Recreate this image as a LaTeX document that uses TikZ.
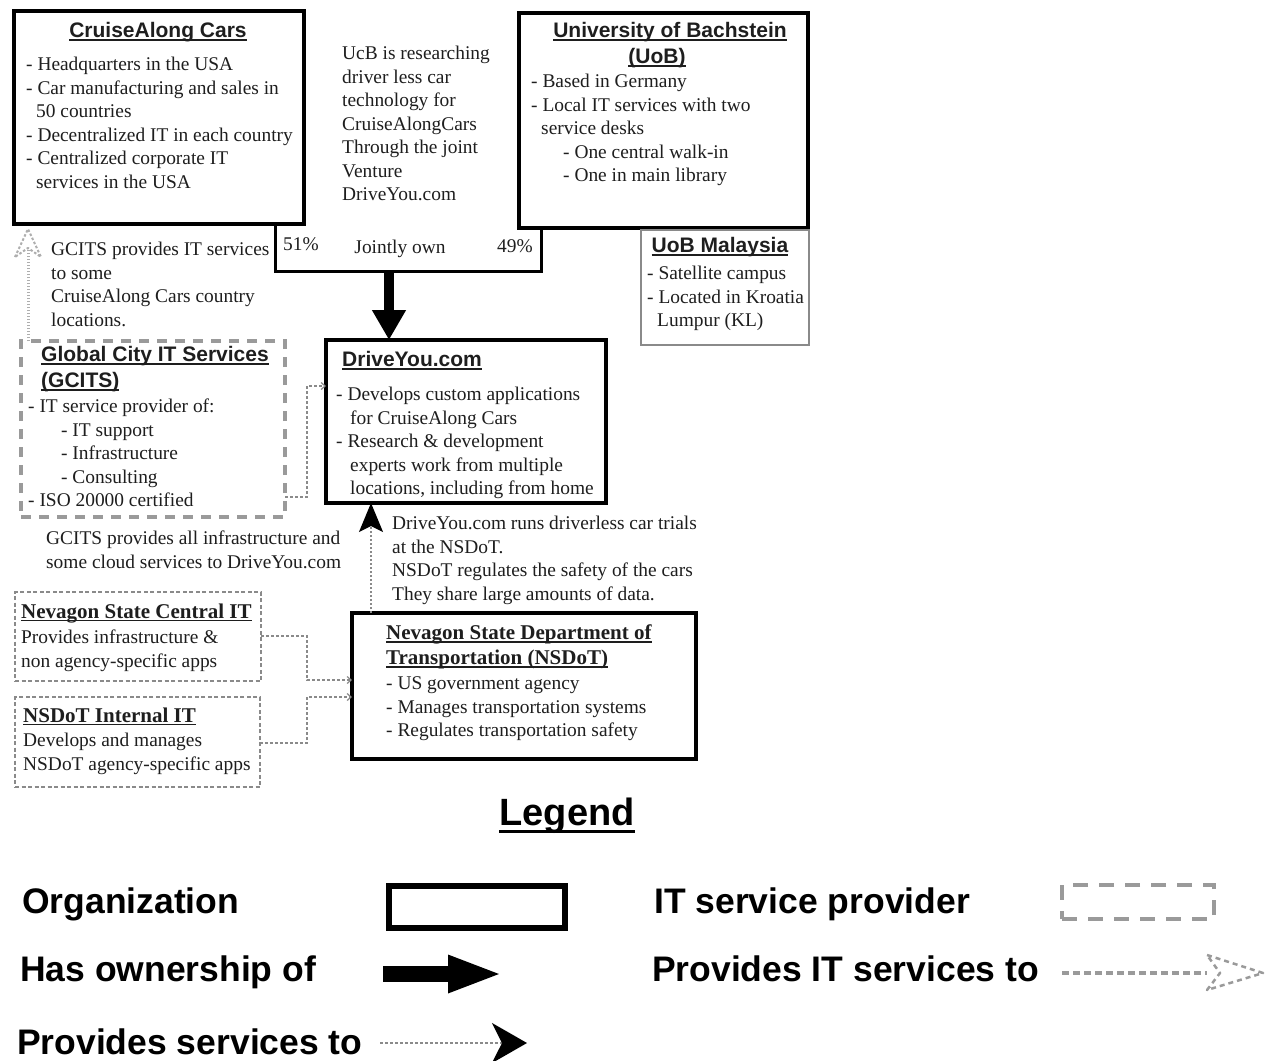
\documentclass[tikz,border=0pt]{standalone}
\usepackage{fontspec}
\setmainfont{Liberation Serif}
\setsansfont{Liberation Sans}
\usetikzlibrary{arrows.meta}
\definecolor{ink}{HTML}{1E1E1E}
\definecolor{itgray}{HTML}{9A9A9A}
\definecolor{thingray}{HTML}{8A8A8A}
\newcommand\myul[1]{\setbox0=\hbox{#1}\rlap{\rule[-3.4pt]{\wd0}{1.7pt}}\box0}
\newcommand\bodyfs{\fontsize{19.4pt}{23.5pt}\selectfont}
\newcommand\titlefs{\sffamily\bfseries\fontsize{21pt}{26pt}\selectfont}
\newcommand\stitlefs{\bfseries\fontsize{21pt}{25pt}\selectfont}
\newcommand\legfs{\sffamily\bfseries\fontsize{35.5pt}{40pt}\selectfont}
\tikzset{
  orgbox/.style={draw=black, line width=4pt, inner sep=0pt, outer sep=0pt, anchor=north west},
  itbox/.style={draw=itgray, line width=3.5pt, dash pattern=on 10pt off 8pt, inner sep=0pt, outer sep=0pt, anchor=north west},
  thinit/.style={draw=thingray, line width=1.3pt, dash pattern=on 4pt off 2.5pt, inner sep=0pt, outer sep=0pt, anchor=north west},
  satbox/.style={draw=thingray, line width=1.5pt, inner sep=0pt, outer sep=0pt, anchor=north west},
  body/.style={font=\bodyfs, align=left, inner sep=0pt, anchor=north west, text=ink, yshift=-2pt},
  pct/.style={font=\bodyfs, inner sep=0pt, anchor=base, text=ink},
  ttl/.style={font=\titlefs, inner sep=0pt, anchor=base, text=ink},
  ttlw/.style={font=\titlefs, inner sep=0pt, anchor=base west, text=ink},
  sttl/.style={font=\stitlefs, inner sep=0pt, anchor=base west, text=ink, align=left},
  legtxt/.style={font=\legfs, inner sep=0pt, anchor=base west, text=black},
  ownarrow/.style={draw=black, line width=10pt, -{Triangle[length=30pt,width=32pt]}},
  thinsvc/.style={draw=thingray, line width=1.2pt, dash pattern=on 3pt off 2pt, -{Straight Barb[length=4pt,width=7pt,color=thingray]}},
  svcarrow/.style={draw=thingray, line width=1.6pt, dash pattern=on 2pt off 2pt, -{Stealth[length=29pt,width=24pt,inset=6pt,color=black]}},
  itsvc/.style={draw=itgray!80, line width=3pt, dash pattern=on 1.5pt off 1.5pt},
  itsvchead/.style={draw=itgray!80, line width=2pt, dash pattern=on 2.5pt off 2pt, line join=round},
}
\begin{document}
\begin{tikzpicture}[x=1pt,y=-1pt]
\useasboundingbox (0,0) rectangle (1271,1060);
\fill[white] (0,0) rectangle (1271,1060);

% ---------- CruiseAlong Cars ----------
\node[orgbox, minimum width=290pt, minimum height=213pt] (cac) at (14,11) {};
\node[ttl] (cact) at (158,37.5) {\myul{CruiseAlong Cars}};
\node[body] (cacb) at (26,52) {\strut- Headquarters in the USA\\
- Car manufacturing and sales in\\
\hspace*{10pt}50 countries\\
- Decentralized IT in each country\\
- Centralized corporate IT\\
\hspace*{10pt}services in the USA};

% ---------- UcB note ----------
\node[body] (ucb) at (342,41) {\strut UcB is researching\\driver less car\\technology for\\CruiseAlongCars\\Through the joint\\Venture\\DriveYou.com};

% ---------- University of Bachstein ----------
\node[orgbox, minimum width=289pt, minimum height=215pt] (uob) at (519,13) {};
\node[ttl] (uobt1) at (670,37.5) {\myul{University of Bachstein}};
\node[ttl] (uobt2) at (657,63.5) {\myul{(UoB)}};
\node[body] (uobb) at (531,69) {\strut- Based in Germany\\
- Local IT services with two\\
\hspace*{10pt}service desks\\
\hspace*{32pt}- One central walk-in\\
\hspace*{32pt}- One in main library};

% ---------- UoB Malaysia ----------
\node[satbox, minimum width=168pt, minimum height=115pt] (uobm) at (641,230) {};
\node[ttl] (uobmt) at (720,252.5) {\myul{UoB Malaysia}};
\node[body] (uobmb) at (647,261) {\strut- Satellite campus\\
- Located in Kroatia\\
\hspace*{10pt}Lumpur (KL)};

% ---------- joint ownership ----------
\coordinate (j1) at (275,271);
\coordinate (j2) at (541,271);
\coordinate (jm) at (389,271);
\draw[line width=3pt] (cac.south -| j1) -- (j1) -- (j2) -- (uob.south -| j2);
\node[pct] (p51) at (301,250) {51\%};
\node[pct] (jown) at (400,253) {Jointly own};
\node[pct] (p49) at (515,252) {49\%};

% ---------- DriveYou.com ----------
\node[orgbox, minimum width=280pt, minimum height=163pt] (dy) at (326,340) {};
\draw[ownarrow] (jm) -- (dy.north -| jm);
\node[ttlw] (dyt) at (342,366.5) {\myul{DriveYou.com}};
\node[body] (dyb) at (336,382) {\strut- Develops custom applications\\
\hspace*{14pt}for CruiseAlong Cars\\
- Research \& development\\
\hspace*{14pt}experts work from multiple\\
\hspace*{14pt}locations, including from home};

% ---------- GCITS ----------
\node[itbox, minimum width=264pt, minimum height=176pt] (gcits) at (21,341) {};
\node[ttlw] (gcitst1) at (41,361.5) {\myul{Global City IT Services}};
\node[ttlw] (gcitst2) at (41,387.5) {\myul{(GCITS)}};
\node[body] (gcitsb) at (28,394) {\strut- IT service provider of:\\
\hspace*{33pt}- IT support\\
\hspace*{33pt}- Infrastructure\\
\hspace*{33pt}- Consulting\\
- ISO 20000 certified};

% GCITS -> CruiseAlong (IT services)
\coordinate (a0) at (28,229);
\coordinate (a1) at (28,248);
\draw[itsvc] (gcits.north -| a1) -- (a1);
\draw[itsvchead] ([shift={(-13,28)}]a0) -- (a0) -- ([shift={(13,28)}]a0) -- (a1) -- cycle;
\node[body] (gcitsn) at (51,237) {\strut GCITS provides IT services\\to some\\CruiseAlong Cars country\\locations.};

% GCITS -> DriveYou (services)
\coordinate (g1) at (307,497);
\coordinate (g2) at (307,386);
\draw[thinsvc] (gcits.east |- g1) -- (g1) -- (g2) -- (dy.west |- g2);
\node[body] (gdyn) at (46,526) {\strut GCITS provides all infrastructure and\\some cloud services to DriveYou.com};

% ---------- NSDoT ----------
\node[orgbox, minimum width=344pt, minimum height=146pt] (nsdot) at (352,613) {};
\node[sttl, anchor=north west] (nsdott) at (386,621.5) {\strut\myul{Nevagon State Department of}\\\myul{Transportation (NSDoT)}};
\node[body] (nsdotb) at (386,671) {\strut- US government agency\\
- Manages transportation systems\\
- Regulates transportation safety};

\coordinate (n1) at (371,560);
\draw[svcarrow] (nsdot.north -| n1) -- (dy.south -| n1);
\node[body] (dyn) at (392,511) {\strut DriveYou.com runs driverless car trials\\at the NSDoT.\\NSDoT regulates the safety of the cars\\They share large amounts of data.};

% ---------- Nevagon State Central IT ----------
\node[thinit, minimum width=246pt, minimum height=89pt] (nsc) at (15,592) {};
\node[sttl] (nsct) at (21,618) {\myul{Nevagon State Central IT}};
\node[body] (nscb) at (21,625) {\strut Provides infrastructure \&\\non agency-specific apps};

% ---------- NSDoT Internal IT ----------
\node[thinit, minimum width=245pt, minimum height=90pt] (nsi) at (15,697) {};
\node[sttl] (nsit) at (23,722) {\myul{NSDoT Internal IT}};
\node[body] (nsib) at (23,728) {\strut Develops and manages\\NSDoT agency-specific apps};

\coordinate (c1) at (307,636);
\coordinate (c2) at (307,680);
\draw[thinsvc] (nsc.east |- c1) -- (c1) -- (c2) -- (nsdot.west |- c2);
\coordinate (d1) at (307,743);
\coordinate (d2) at (307,697);
\draw[thinsvc] (nsi.east |- d1) -- (d1) -- (d2) -- (nsdot.west |- d2);

% ---------- Legend ----------
\node[font=\sffamily\bfseries\fontsize{38pt}{44pt}\selectfont, inner sep=0pt, anchor=base, text=black] (leg) at (567,825.5) {\setbox0=\hbox{Legend}\rlap{\rule[-7pt]{\wd0}{2.6pt}}\box0};

\node[legtxt] (l1) at (22,913) {Organization};
\node[draw=black, line width=6pt, minimum width=176pt, minimum height=42pt, inner sep=0pt, anchor=north west] (legorg) at (386,883) {};

\node[legtxt] (l2) at (20,981) {Has ownership of};
\coordinate (lo1) at (383,974);
\coordinate (lo2) at (503,974);
\draw[line width=16pt, -{Triangle[length=55pt,width=34pt]}] (lo1) -- (lo2);

\node[legtxt] (l3) at (17,1054) {Provides services to};
\coordinate (ls1) at (380,1043);
\coordinate (ls2) at (527,1043);
\draw[draw=thingray, line width=1.6pt, dash pattern=on 3pt off 2pt, -{Stealth[length=35pt,width=40pt,inset=10pt,color=black]}] (ls1) -- (ls2);

\node[legtxt] (l4) at (654,913) {IT service provider};
\node[draw=itgray, line width=4pt, dash pattern=on 15pt off 11pt, minimum width=152pt, minimum height=34pt, inner sep=0pt, anchor=north west] (legit) at (1060,883) {};

\node[legtxt] (l5) at (652,981) {Provides IT services to};
\coordinate (li1) at (1062,973);
\coordinate (li2) at (1207,973);
\coordinate (li3) at (1263,973);
\draw[draw=itgray, line width=3.5pt, dash pattern=on 7pt off 4pt] (li1) -- (li2);
\draw[itsvchead, draw=itgray, line width=2.5pt, dash pattern=on 5pt off 4pt] ([shift={(-56,-18)}]li3) -- (li3) -- ([shift={(-56,17)}]li3) -- ([shift={(-43,0)}]li3) -- cycle;
\end{tikzpicture}
\end{document}
